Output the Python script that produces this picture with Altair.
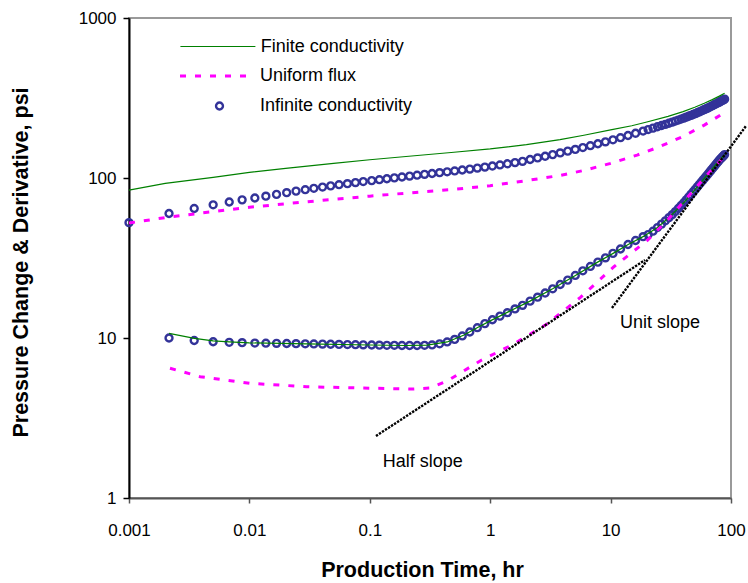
import altair as alt
import pandas as pd

# ---------------- data ----------------
# sampling times shared by the "Infinite conductivity" circles (hr)
T = [0.001, 0.00215, 0.00348, 0.005, 0.0068, 0.0087, 0.0111, 0.0137, 0.0168, 0.0204,
     0.0244, 0.0291, 0.0343, 0.0405, 0.0473, 0.0555, 0.0652, 0.076, 0.0882, 0.1037,
     0.1201, 0.1386, 0.160, 0.185, 0.214, 0.247, 0.285, 0.329, 0.380, 0.439,
     0.507, 0.586, 0.677, 0.782, 0.903, 1.043, 1.205, 1.391, 1.607, 1.856,
     2.144, 2.476, 2.860, 3.303, 3.815, 4.406, 5.089, 5.878, 6.789, 7.841,
     9.057, 10.46, 12.08, 13.95, 16.12, 18.62, 20.5, 22.5, 24.5, 26.5,
     28.5, 30.5, 32.5, 34.5, 36.5, 38.5, 40.5, 42.5, 44.5, 46.5,
     48.5, 50.5, 52.5, 54.5, 56.5, 58.5, 60.5, 62.5, 64.5, 66.5,
     68.5, 70.5, 72.5, 74.5, 76.5, 78.5, 80.5, 82.5, 84.5, 86.5, 88.5]
# pressure change, infinite conductivity (psi)
INF_P = [52.6, 60.0, 64.5, 68.0, 70.8, 73.0, 75.0, 77.0, 79.0, 81.0,
         82.8, 84.5, 86.2, 87.8, 89.3, 90.8, 92.2, 93.6, 95.0, 96.3,
         97.6, 98.9, 100.2, 101.5, 102.8, 104.1, 105.4, 106.7, 108.0, 109.3,
         110.7, 112.2, 113.7, 115.3, 117.0, 118.8, 120.7, 122.7, 124.8, 127.1,
         130.5, 133.5, 136.7, 140.0, 143.5, 147.2, 150.9, 155.0, 159.2, 163.7,
         168.3, 173.3, 178.6, 184.3, 190.3, 196.5, 200.8, 205.0, 209.0, 212.8,
         216.5, 220.0, 223.5, 226.9, 230.2, 233.5, 236.7, 240.0, 243.2, 246.4,
         249.5, 252.7, 255.8, 258.9, 262.0, 265.2, 268.3, 271.4, 274.5, 277.6,
         280.6, 283.7, 286.8, 289.8, 292.9, 295.9, 299.0, 302.0, 305.0, 308.0, 311.0]
# pressure derivative, infinite conductivity (psi); no value at the first time
INF_D = [None, 10.0, 9.65, 9.48, 9.4, 9.35, 9.3, 9.28, 9.26, 9.24,
         9.22, 9.2, 9.18, 9.16, 9.14, 9.12, 9.1, 9.08, 9.06, 9.04,
         9.02, 9.0, 9.0, 8.98, 8.98, 8.98, 9.0, 9.05, 9.2, 9.45,
         9.8, 10.3, 10.9, 11.6, 12.3, 13.0, 13.7, 14.4, 15.2, 16.0,
         17.0, 18.0, 19.1, 20.3, 21.6, 23.0, 24.6, 26.3, 28.0, 29.8,
         31.7, 33.8, 36.0, 38.4, 40.7, 43.0, 44.3, 46.5, 49.0, 51.5,
         54.0, 56.5, 59.0, 61.7, 64.5, 67.3, 70.0, 73.0, 76.0, 79.0,
         82.0, 85.0, 88.0, 91.0, 94.0, 97.0, 100.0, 103.0, 106.0, 109.0,
         112.0, 115.0, 118.0, 121.0, 124.0, 127.0, 130.0, 132.5, 135.0, 137.5, 140.0]

# finite conductivity (green line)
FIN_P_T = [0.001, 0.002, 0.005, 0.01, 0.02, 0.05, 0.1, 0.2, 0.5, 1, 2, 3.8, 6, 10,
           15, 20, 30, 40, 50, 60, 70, 80, 88.5]
FIN_P = [84, 92.5, 101, 108.5, 115, 123.5, 130, 136.3, 144.8, 152, 161.5, 173.5, 185, 200,
         212, 224, 243, 260, 277, 293, 309, 325, 339]
FIN_D_T = [0.00215, 0.0035, 0.005, 0.0068, 0.01, 0.03, 0.1, 0.2, 0.3, 0.44, 0.6, 0.8, 1.0,
           1.5, 2.14, 3.3, 5.1, 7.8, 10.5, 14, 18.6, 24.5, 30.5, 40.5, 50.5, 60.5, 70.5, 80.5, 88.5]
FIN_D = [10.7, 9.95, 9.6, 9.45, 9.32, 9.2, 9.04, 8.98, 9.02, 9.45, 10.4, 11.7, 12.8,
         14.9, 17.0, 20.3, 24.6, 29.8, 33.8, 38.4, 43.0, 49.0, 56.5, 70.0, 85.0, 100.0, 115.0, 130.0, 140.0]

# uniform flux (magenta dashed line)
UF_P_T = [0.001, 0.002, 0.005, 0.01, 0.02, 0.05, 0.1, 0.2, 0.5, 1, 2, 3.73, 6, 10,
          16.6, 25, 40, 60, 88.5]
UF_P = [52.3, 56.6, 61.7, 65.6, 69.0, 73.6, 77.0, 80.4, 85.0, 89.5, 96.3, 103.5, 111.5, 123.5,
        139, 156, 182, 214, 257]
UF_D_T = [0.00219, 0.0039, 0.0101, 0.0298, 0.107, 0.229, 0.316, 0.44, 0.83, 1.57, 2.94,
          5.65, 10.6, 20.2, 30, 45, 60, 75, 88.5]
UF_D = [6.47, 5.73, 5.21, 4.96, 4.85, 4.8, 4.87, 5.39, 7.21, 9.17, 12.2,
        18.0, 27.8, 40.8, 55, 78, 100, 120, 137]

# straight reference lines (dotted)
HALF_T = [0.1125, 19.3]
HALF_V = [2.44, 30.7]
UNIT_T = [10.27, 133]
UNIT_V = [15.4, 211]

# annotations
NOTE_TEXT = ["Unit slope", "Half slope"]
NOTE_T = [25.7, 0.275]
NOTE_V = [12.4, 1.686]

FIN_NAME = ["Finite conductivity"]
UF_NAME = ["Uniform flux"]
INF_NAME = ["Infinite conductivity"]
GREEN, MAGENTA, NAVY = "#008000", "#FF00FF", "#333399"
FONT = "Liberation Sans"

# ---------------- tables ----------------
circ_rows = []
for t, p, d in zip(T, INF_P, INF_D):
    circ_rows.append({"t": t, "v": p, "curve": "P", "series": INF_NAME[0]})
    if d is not None:
        circ_rows.append({"t": t, "v": d, "curve": "D", "series": INF_NAME[0]})
circ_df = pd.DataFrame(circ_rows)


def line_df(name, tp, vp, td, vd):
    rows = [{"t": a, "v": b, "curve": "P", "series": name} for a, b in zip(tp, vp)]
    rows += [{"t": a, "v": b, "curve": "D", "series": name} for a, b in zip(td, vd)]
    return pd.DataFrame(rows)


fin_df = line_df(FIN_NAME[0], FIN_P_T, FIN_P, FIN_D_T, FIN_D)
uf_df = line_df(UF_NAME[0], UF_P_T, UF_P, UF_D_T, UF_D)

ref_df = pd.DataFrame(
    [{"t": a, "v": b, "ref": "half"} for a, b in zip(HALF_T, HALF_V)]
    + [{"t": a, "v": b, "ref": "unit"} for a, b in zip(UNIT_T, UNIT_V)]
)
note_df = pd.DataFrame({"t": NOTE_T, "v": NOTE_V, "label": NOTE_TEXT})

# ---------------- encodings ----------------
X = alt.X(
    "t:Q",
    scale=alt.Scale(type="log", domain=[0.001, 100], nice=False),
    title="Production Time, hr",
    axis=alt.Axis(
        values=[0.001, 0.01, 0.1, 1, 10, 100], format="~g", grid=False,
        domainColor="#555555", domainWidth=2, tickColor="#555555", tickWidth=1.5, tickSize=5,
        labelFont=FONT, labelFontSize=17, labelColor="black", labelPadding=19,
        labelFlush=False, labelOverlap=False,
        titleFont=FONT, titleFontSize=21.5, titleFontWeight="bold", titleColor="black",
        titleX=293, titleY=72, titleBaseline="middle",
    ),
)
Y = alt.Y(
    "v:Q",
    scale=alt.Scale(type="log", domain=[1, 1000], nice=False),
    title="Pressure Change & Derivative, psi",
    axis=alt.Axis(
        values=[1, 10, 100, 1000], format="~g", grid=False,
        domainColor="black", domainWidth=2, tickColor="black", tickWidth=1.5, tickSize=6,
        labelFont=FONT, labelFontSize=17, labelColor="black", labelPadding=7,
        labelFlush=False, labelOverlap=False,
        titleFont=FONT, titleFontSize=21.5, titleFontWeight="bold", titleColor="black",
        titleX=-108, titleY=244, titleBaseline="middle",
    ),
)

LEG = dict(title=None, orient="none", padding=0, labelFont=FONT, labelFontSize=18,
           labelColor="black", labelLimit=400)

fin_legend = alt.Legend(legendX=50.4, legendY=-10, symbolType="stroke", symbolSize=5625,
                        symbolStrokeWidth=1.2, labelOffset=4.4, **LEG)
uf_legend = alt.Legend(legendX=49.5, legendY=19, symbolType="stroke", symbolSize=5625,
                       symbolStrokeWidth=3, symbolStrokeColor=MAGENTA, labelOffset=3.5, **LEG)
inf_legend = alt.Legend(legendX=81.5, legendY=79, symbolType="circle", symbolSize=48,
                        symbolStrokeWidth=2.4, symbolFillColor="transparent", labelOffset=31.5, **LEG)

circles = alt.Chart(circ_df).mark_point(
    shape="circle", filled=False, size=48, strokeWidth=2.4, opacity=1
).encode(
    x=X, y=Y, detail="curve:N",
    stroke=alt.Stroke("series:N", scale=alt.Scale(domain=INF_NAME, range=[NAVY]),
                      legend=inf_legend),
)

fin = alt.Chart(fin_df).mark_line(strokeWidth=1.2).encode(
    x=X, y=Y, detail="curve:N", order="t:Q",
    color=alt.Color("series:N", scale=alt.Scale(domain=FIN_NAME, range=[GREEN]),
                    legend=fin_legend),
)
uf = alt.Chart(uf_df).mark_line(strokeWidth=3, color=MAGENTA).encode(
    x=X, y=Y, detail="curve:N", order="t:Q",
    strokeDash=alt.StrokeDash("series:N", scale=alt.Scale(domain=UF_NAME, range=[[6, 9]]),
                              legend=uf_legend),
)
refs = alt.Chart(ref_df).mark_line(color="black", strokeWidth=2.4, strokeDash=[2.4, 1.2]).encode(
    x=X, y=Y, detail="ref:N"
)
notes = alt.Chart(note_df).mark_text(font=FONT, fontSize=18, color="black").encode(
    x=X, y=Y, text="label:N"
)

chart = alt.layer(circles, fin, uf, refs, notes).resolve_legend(
    stroke="independent", color="independent", strokeDash="independent"
).properties(
    width=602, height=480,
    padding={"left": 129, "top": 18, "right": 17, "bottom": 85},
    autosize="none",
).configure(font=FONT, background="white").configure_view(
    stroke="#9a9a9a", strokeWidth=2
)

chart.save("out.html", embed_options={"renderer": "svg", "actions": False})
